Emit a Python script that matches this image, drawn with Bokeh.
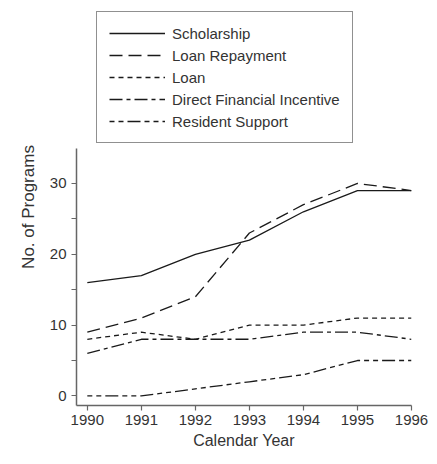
from bokeh.plotting import figure
from bokeh.models import Legend, LegendItem, FixedTicker, Range1d
from bokeh.embed import file_html
from bokeh.resources import INLINE

years = [1990, 1991, 1992, 1993, 1994, 1995, 1996]
scholarship = [16, 17, 20, 22, 26, 29, 29]
loan_repayment = [9, 11, 14, 23, 27, 30, 29]
loan = [8, 9, 8, 10, 10, 11, 11]
direct_incentive = [6, 8, 8, 8, 9, 9, 8]
resident_support = [0, 0, 1, 2, 3, 5, 5]

names = ["Scholarship", "Loan Repayment", "Loan", "Direct Financial Incentive", "Resident Support"]
series = [scholarship, loan_repayment, loan, direct_incentive, resident_support]
dashes = ["solid", "13 6", "5 4", "13 4 4 4", "5 4 5 4 13 4"]
y_ticks = [0, 5, 10, 15, 20, 25, 30]

FONT = "Liberation Sans"
TXT = "#333333"
AX = "#666666"

p = figure(frame_width=335, frame_height=397, output_backend="svg", toolbar_location=None,
           x_range=Range1d(1989.8, 1996), y_range=Range1d(-1.35, 54.7),
           min_border_left=76, min_border_right=18, min_border_top=8, min_border_bottom=0)
p.outline_line_color = None
p.grid.visible = False

items = []
for name, ys, d in zip(names, series, dashes):
    r = p.line(years, ys, line_color="#1a1a1a", line_width=1.3, line_dash=d)
    items.append(LegendItem(label=name, renderers=[r]))

legend = Legend(items=items, location=(20, 262), glyph_width=56, label_standoff=7,
                label_text_font=FONT, label_text_font_size="15px", label_text_color=TXT,
                border_line_color="#222222", border_line_width=1.2,
                padding=12, spacing=4, label_height=18, glyph_height=18,
                margin=0, background_fill_alpha=1)
p.add_layout(legend, "center")

p.xaxis.ticker = FixedTicker(ticks=years)
p.yaxis.ticker = FixedTicker(ticks=y_ticks)
p.yaxis.major_label_overrides = {5: "", 15: "", 25: ""}
p.yaxis.bounds = (-1.35, 35)
for ax in (p.xaxis[0], p.yaxis[0]):
    ax.axis_line_color = AX
    ax.axis_line_width = 1.5
    ax.major_tick_line_color = AX
    ax.major_tick_line_width = 1.2
    ax.major_tick_in = 0
    ax.major_tick_out = 5
    ax.minor_tick_line_color = None
    ax.major_label_text_font = FONT
    ax.major_label_text_font_size = "15px"
    ax.major_label_text_color = TXT
    ax.axis_label_text_font = FONT
    ax.axis_label_text_font_size = "16px"
    ax.axis_label_text_font_style = "normal"
    ax.axis_label_text_color = TXT
    ax.axis_label_standoff = 4
p.xaxis.axis_label = "Calendar Year"
p.yaxis.axis_label = "No. of Programs"
p.yaxis.axis_label_text_font_size = "17px"
p.yaxis.axis_label_standoff = 9
p.yaxis.major_label_standoff = 5
p.xaxis.major_label_standoff = 4

open("out.html", "w").write(file_html(p, INLINE))
